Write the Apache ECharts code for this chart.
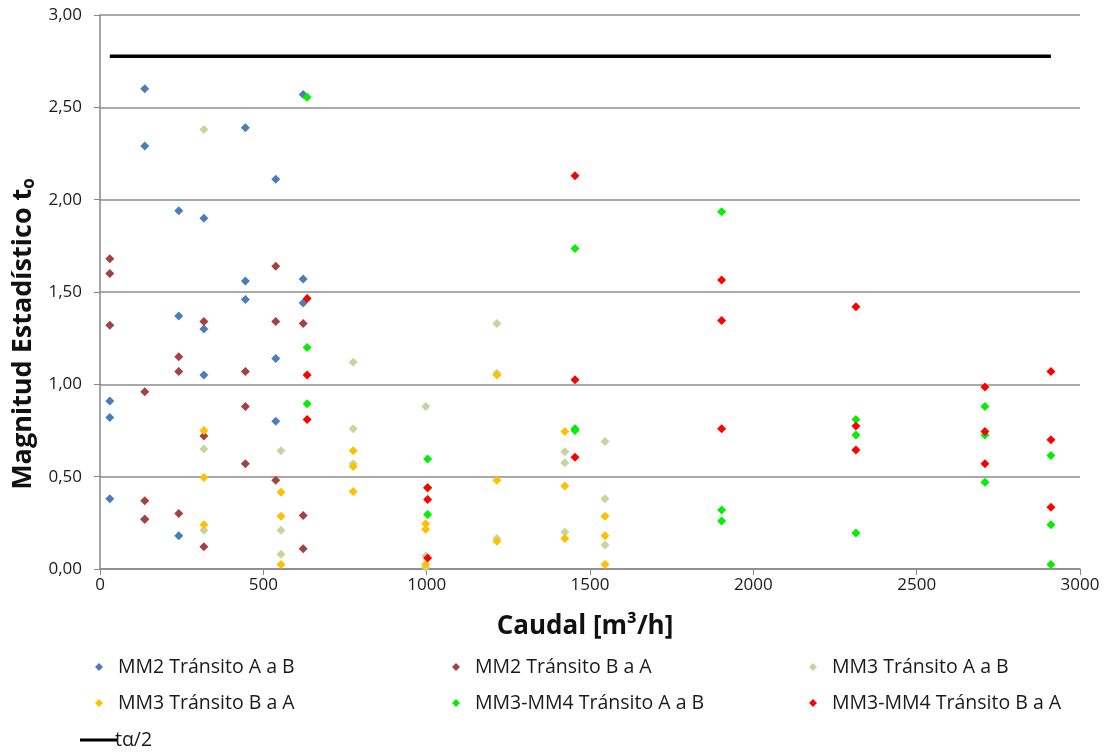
<!DOCTYPE html>
<html><head><meta charset="utf-8">
<script src="https://cdn.jsdelivr.net/npm/echarts@6/dist/echarts.min.js"></script>
<style>html,body{margin:0;padding:0;background:#fff}#c{width:1110px;height:752px}</style>
</head><body><div id="c"></div>
<script>
// ---- data ----
const seriesNames = ['MM2 Tránsito A a B','MM2 Tránsito B a A','MM3 Tránsito A a B','MM3 Tránsito B a A','MM3-MM4 Tránsito A a B','MM3-MM4 Tránsito B a A'];
const seriesColors = ['#4A7EBB','#A5413F','#C4D79B','#FFC000','#00F000','#FF0000'];
const mm2AB = [[30,0.91],[30,0.82],[30,0.38],[137,2.60],[137,2.29],[137,0.27],[241,1.94],[241,1.37],[241,0.18],[318,1.90],[318,1.30],[318,1.05],[445,2.39],[445,1.56],[445,1.46],[538,2.11],[538,1.14],[538,0.80],[622,2.57],[622,1.57],[622,1.44]];
const mm2BA = [[30,1.68],[30,1.60],[30,1.32],[137,0.96],[137,0.37],[137,0.27],[241,1.15],[241,1.07],[241,0.30],[318,1.34],[318,0.72],[318,0.12],[445,1.07],[445,0.88],[445,0.57],[538,1.64],[538,1.34],[538,0.48],[622,1.33],[622,0.29],[622,0.11]];
const mm3AB = [[318,2.38],[318,0.65],[318,0.21],[554,0.64],[554,0.21],[554,0.08],[775,1.12],[775,0.76],[775,0.57],[997,0.88],[997,0.07],[997,0.01],[1215,1.33],[1215,1.06],[1215,0.165],[1423,0.635],[1423,0.575],[1423,0.20],[1546,0.69],[1546,0.38],[1546,0.13]];
const mm3BA = [[318,0.75],[318,0.495],[318,0.24],[554,0.415],[554,0.285],[554,0.025],[775,0.64],[775,0.555],[775,0.42],[997,0.245],[997,0.215],[997,0.025],[1215,1.05],[1215,0.48],[1215,0.15],[1423,0.745],[1423,0.45],[1423,0.165],[1546,0.285],[1546,0.18],[1546,0.025]];
const mm34AB = [[634,2.555],[634,1.20],[634,0.895],[1003,0.595],[1003,0.44],[1003,0.295],[1454,1.735],[1454,0.76],[1454,0.75],[1903,1.935],[1903,0.32],[1903,0.26],[2314,0.81],[2314,0.725],[2314,0.195],[2709,0.88],[2709,0.725],[2709,0.47],[2911,0.615],[2911,0.24],[2911,0.025]];
const mm34BA = [[634,1.465],[634,1.05],[634,0.81],[1003,0.44],[1003,0.377],[1003,0.06],[1454,2.13],[1454,1.025],[1454,0.605],[1903,1.565],[1903,1.345],[1903,0.76],[2314,1.42],[2314,0.775],[2314,0.645],[2709,0.985],[2709,0.745],[2709,0.57],[2911,1.07],[2911,0.70],[2911,0.335]];
const tName = 'tα/2';
const tLine = [[30,2.776],[2911,2.776]];
const yTicks = {min:0,max:3,interval:0.5};
const xTicks = {min:0,max:3000,interval:500};
// ---- chart ----
const FONT = '"Open Sans", sans-serif';
const allData = [mm2AB, mm2BA, mm3AB, mm3BA, mm34AB, mm34BA];
const series = seriesNames.map((n,i)=>({
  name:n, type:'scatter', data:allData[i], symbol:'diamond', symbolSize:9,
  itemStyle:{color:seriesColors[i],opacity:1}, z:3+i
}));
series.unshift({name:tName,type:'line',data:tLine,symbol:'none',lineStyle:{color:'#000',width:3.5},itemStyle:{color:'#000'},z:2});
const legPos = [[94,664],[451,664],[808,664],[94,700],[451,700],[808,700]];
const legends = seriesNames.map((n,i)=>({
  data:[n], left:legPos[i][0]-4, top:legPos[i][1]-12, icon:'diamond', itemWidth:8, itemHeight:8,
  textStyle:{fontFamily:FONT,fontSize:19.5,color:'#1a1a1a',padding:[0,0,0,10]}, selectedMode:false
}));
legends.push({data:[tName], left:75, top:725, icon:'rect', itemWidth:37, itemHeight:3,
  textStyle:{fontFamily:FONT,fontSize:19.5,color:'#1a1a1a',padding:[0,0,0,-7]}, selectedMode:false});
const chart = echarts.init(document.getElementById('c'));
chart.setOption({
  animation:false,
  backgroundColor:'#fff',
  grid:{left:100,right:30,top:15,bottom:183},
  legend:legends,
  xAxis:{type:'value',min:xTicks.min,max:xTicks.max,interval:xTicks.interval,
    name:'Caudal [m³/h]',nameLocation:'middle',nameGap:45,
    nameTextStyle:{fontFamily:FONT,fontSize:26,fontWeight:'bold',color:'#111',padding:[0,10,0,0]},
    axisLine:{show:true,lineStyle:{color:'#888',width:1.5}},
    axisTick:{show:true,inside:false,length:6,lineStyle:{color:'#888'}},
    axisLabel:{fontFamily:FONT,fontSize:17,color:'#1a1a1a',margin:8,formatter:v=>String(v)},
    splitLine:{show:false}},
  yAxis:{type:'value',min:yTicks.min,max:yTicks.max,interval:yTicks.interval,
    name:'{a|Magnitud Estadístico t}{s|o}',nameLocation:'middle',nameGap:56,nameRotate:90,
    nameTextStyle:{padding:[0,84,0,0],rich:{a:{fontFamily:FONT,fontSize:27,fontWeight:'bold',color:'#111'},
      s:{fontFamily:FONT,fontSize:17,fontWeight:'bold',color:'#111',padding:[12,0,0,0]}}},
    axisLine:{show:true,lineStyle:{color:'#888',width:1.5}},
    axisTick:{show:true,inside:false,length:6,lineStyle:{color:'#888'}},
    axisLabel:{fontFamily:FONT,fontSize:17,color:'#1a1a1a',margin:18,formatter:v=>v.toFixed(2).replace('.',',')},
    splitLine:{show:true,lineStyle:{color:'#8c8c8c',width:1.5}}},
  series:series
});
</script></body></html>
